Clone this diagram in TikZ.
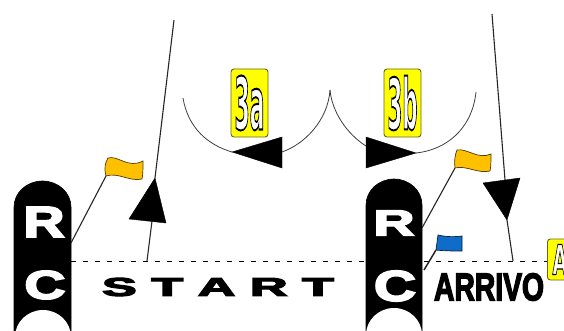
\documentclass[tikz,border=0pt]{standalone}
\usepackage{fontspec,graphicx}
\setmainfont{Liberation Sans}
\newfontfamily\heavyface[FakeBold=4]{Liberation Sans Bold}
\newfontfamily\tagface{DejaVu Sans Bold}
\usetikzlibrary{arrows.meta,positioning,calc}
\definecolor{flagyellow}{HTML}{FFC000}
\definecolor{flagblue}{HTML}{0F6CC8}
\definecolor{tagyellow}{HTML}{FFFF00}
\definecolor{tagedge}{HTML}{6A6418}
\newcommand{\fitted}[3]{\resizebox{#1pt}{#2pt}{\heavyface #3}}
\newcommand{\outlined}[3]{\resizebox{#1pt}{#2pt}{\tagface\color{white}\special{pdf:code 0 G 2 Tr 0.28 w}#3\special{pdf:code 0 Tr}}}
\begin{document}
\begin{tikzpicture}[
  x=1pt, y=-1pt,
  tower/.style={fill=black, draw=black, line width=0.6pt},
  towerfoot/.style={fill=white, draw=none},
  word/.style={inner sep=0pt, outer sep=0pt, text=black},
  boatletter/.style={inner sep=0pt, outer sep=0pt, text=white},
  tag/.style={draw=tagedge, fill=tagyellow, rounded corners=3pt, line width=0.9pt, inner sep=0pt, minimum width=37pt},
  leg/.style={line width=1.1pt, draw=black!85},
  sweep/.style={line width=0.8pt, draw=black!75},
  head/.style={fill=black, draw=black, line join=miter},
  pennant/.style={draw=black!70!flagyellow, fill=flagyellow, line width=0.7pt},
  lane/.style={dashed, dash pattern=on 5pt off 7pt, line width=1pt}
]
\clip (0,0) rectangle (564,331);
\fill[white] (0,0) rectangle (564,331);

% committee boats
\draw[tower] (14,331)--(14,207) arc[start angle=180, end angle=360, x radius=28.5, y radius=26]--(71,331)--cycle;
\fill[towerfoot] (43,337) ellipse[x radius=28, y radius=27];
\draw[tower] (366,331)--(366,205) arc[start angle=180, end angle=360, x radius=28, y radius=26]--(422,331)--cycle;
\fill[towerfoot] (394,335) ellipse[x radius=28, y radius=27];
\node[boatletter] (rleft) at (44,222) {\fitted{41}{30}{R}};
\node[boatletter] (cleft) at (45,285) {\fitted{41}{28}{C}};
\node[boatletter] (rright) at (394,223) {\fitted{41}{25}{R}};
\node[boatletter] (cright) at (395,286) {\fitted{42}{30}{C}};

% start and finish lines
\coordinate (startleft) at (71,261);
\coordinate (startright) at (358,261);
\coordinate (finishleft) at (424,261);
\coordinate (finishright) at (547,261);
\draw[lane] (startleft)--(startright)--(366,261);
\draw[lane] (finishleft)--(finishright);
\node[word] (start) at (218,287) {\fitted{232}{18}{S T A R T}};
\node[word] (arrivo) at (489,287) {\fitted{110}{27}{ARRIVO}};

% course legs
\coordinate (legstart) at (147,261);
\coordinate (legstartbase) at (152,221);
\coordinate (legstarttip) at (155,178);
\coordinate (legstartend) at (174,20);
\draw[leg] (legstart)--(legstartbase);
\draw[leg] (legstarttip)--(legstartend);
\draw[head] (legstarttip)--(129,219)--(166,223)--cycle;
\coordinate (legfinish) at (513,261);
\coordinate (legfinishtip) at (507,220);
\coordinate (legfinishbase) at (505,180);
\coordinate (legfinishend) at (492,14);
\draw[leg] (legfinish)--(legfinishtip);
\draw[leg] (legfinishbase)--(legfinishend);
\draw[head] (483,183)--(520,178)--(legfinishtip)--cycle;

% rounding sweeps
\coordinate (cusp) at (330,90);
\coordinate (sweepa) at (183,98);
\coordinate (sweepb) at (476,92);
\draw[sweep] (sweepa) .. controls (188,128) and (208,145) .. (232,152);
\draw[sweep] (282,152) .. controls (305,144) and (328,120) .. (cusp);
\draw[sweep] (cusp) .. controls (332,112) and (347,134) .. (366,146);
\draw[sweep] (416,153) .. controls (445,150) and (472,130) .. (sweepb);
\draw[head] (232,152)--(282,137)--(282,168)--cycle;
\draw[head] (366,137)--(416,153)--(366,168)--cycle;
\node[tag, minimum height=68pt] (taga) at (249.5,103) {\outlined{30}{54}{3a}};
\node[tag, minimum height=68pt] (tagb) at (402.5,103) {\outlined{30}{54}{3b}};
\node[tag, minimum height=41pt, anchor=west, text width=37pt, align=left] (tagc) at (547,259.5) {\hspace{5pt}\outlined{15}{30}{A}};

% flags
\draw[leg] (71,243)--(106,176);
\draw[pennant] (106,176) .. controls (104,168) and (105,163) .. (108,158) .. controls (118,155) and (128,169) .. (143,161) .. controls (143,168) and (143,174) .. (142,179) .. controls (130,182) and (118,172) .. (106,176)--cycle;
\draw[leg] (422,228)--(455,168);
\draw[pennant] (455,168) .. controls (454,161) and (455,155) .. (457,150) .. controls (467,148) and (478,160) .. (491,154) .. controls (491,160) and (491,166) .. (490,171) .. controls (478,174) and (466,165) .. (455,168)--cycle;
\draw[leg, line width=1.5pt] (424,270)--(436,250);
\draw[draw=black!70!flagblue, fill=flagblue, line width=0.7pt] (436,250)--(438,235) .. controls (446,237) and (455,237) .. (462,236)--(462,251) .. controls (453,251) and (445,251) .. (436,250)--cycle;
\end{tikzpicture}
\end{document}
